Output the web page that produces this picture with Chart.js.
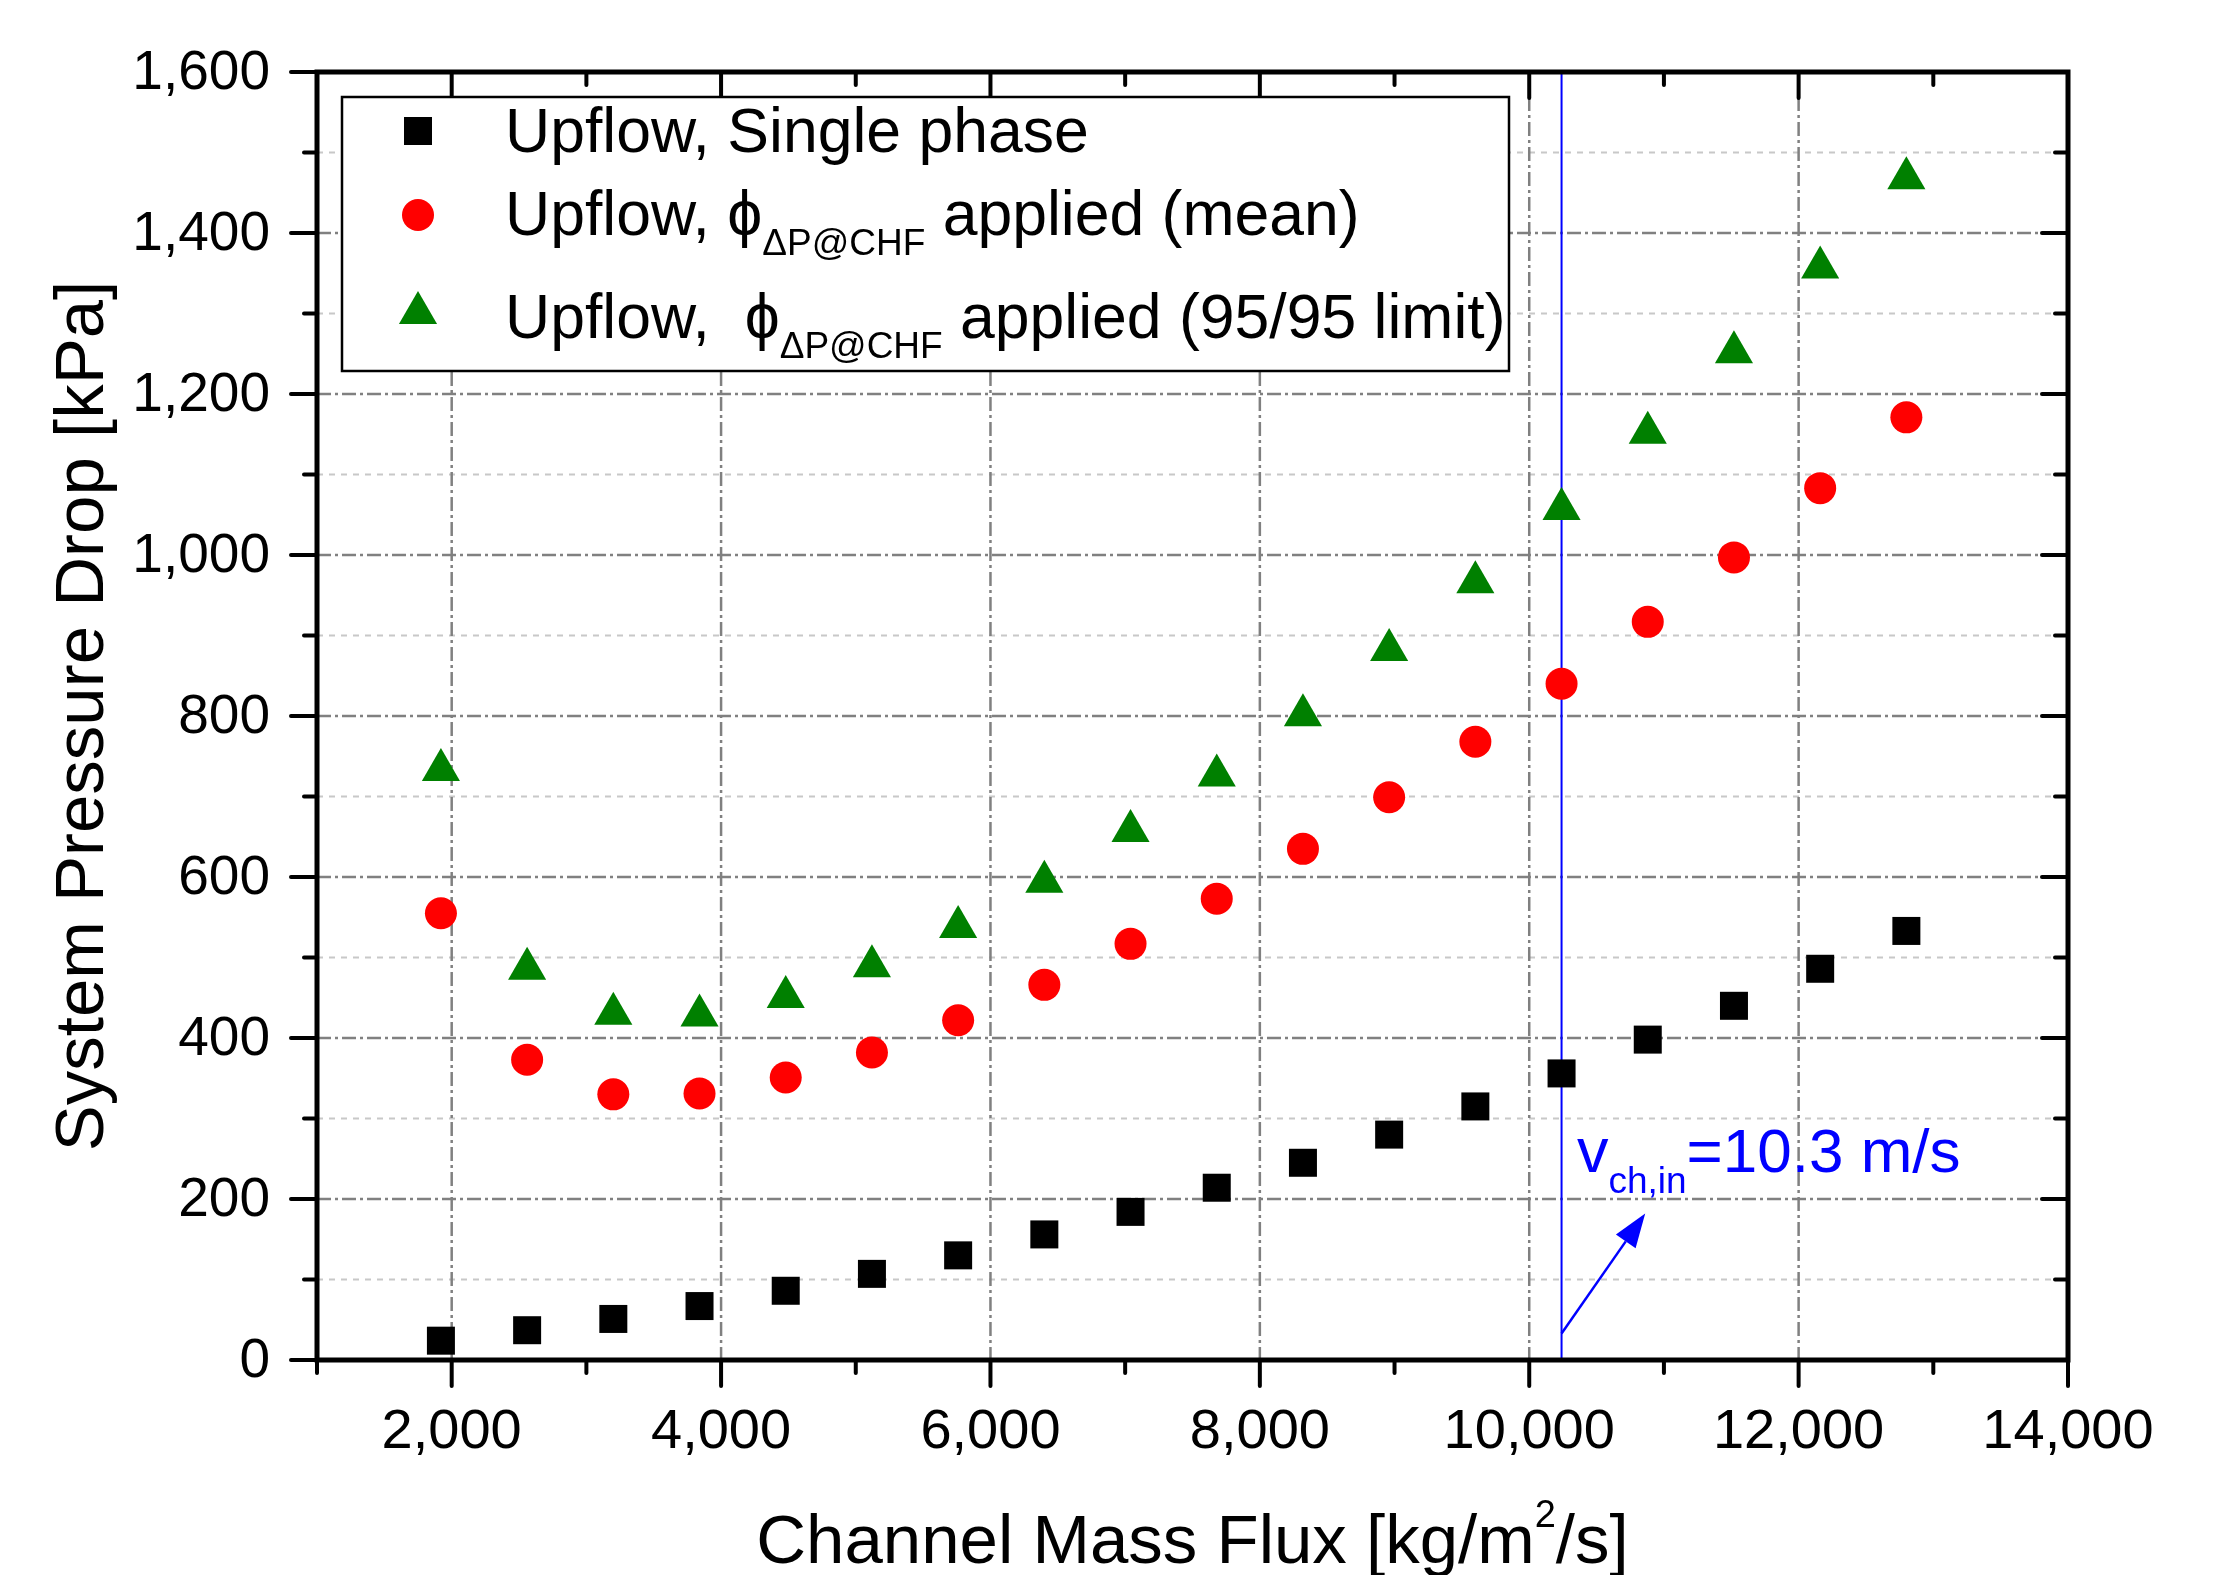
<!DOCTYPE html>
<html>
<head>
<meta charset="utf-8">
<script src="https://cdn.jsdelivr.net/npm/chart.js@4.4.1/dist/chart.umd.min.js"></script>
<style>
  html, body { margin: 0; padding: 0; background: #fff; }
  #wrap { width: 2214px; height: 1575px; }
</style>
</head>
<body>
<div id="wrap"><canvas id="chart" width="2214" height="1575"></canvas></div>
<script>
// --- data ---
const massFlux = [1920, 2560, 3200, 3840, 4480, 5120, 5760, 6400, 7040, 7680, 8320, 8960, 9600, 10240, 10880, 11520, 12160, 12800];
const singlePhase = [24, 37, 51, 67, 86, 107, 130, 156, 184, 214, 245, 280, 315, 356, 398, 440, 486, 533];
const meanApplied = [555, 373, 330, 331, 351, 382, 422, 466, 517, 573, 635, 699, 768, 840, 917, 997, 1083, 1171];
const limitApplied = [733, 486, 430, 428, 451, 489, 538, 594, 657, 726, 801, 882, 966, 1057, 1152, 1252, 1357, 1468];

const xMajorTicks = [2000, 4000, 6000, 8000, 10000, 12000, 14000];
const xMinorTicks = [1000, 3000, 5000, 7000, 9000, 11000, 13000];
const yMajorTicks = [0, 200, 400, 600, 800, 1000, 1200, 1400, 1600];
const yMinorTicks = [100, 300, 500, 700, 900, 1100, 1300, 1500];

const velocityLineX = 10240;   // v_ch,in = 10.3 m/s
const arrowFrom = [10240, 33];
const arrowTo = [10861, 182];
const noteAt = [10354, 234];

const FONT = '"Liberation Sans", Arial, sans-serif';

function pts(ys) {
  return massFlux.map((x, i) => ({ x: x, y: ys[i] }));
}

function seg(ctx, x1, y1, x2, y2, dash, color, w) {
  ctx.beginPath();
  ctx.setLineDash(dash);
  ctx.strokeStyle = color;
  ctx.lineWidth = w;
  ctx.moveTo(x1, y1);
  ctx.lineTo(x2, y2);
  ctx.stroke();
  ctx.setLineDash([]);
}

// draws a run of text pieces [text, size, dy] starting at x, returns end x
function runText(ctx, x, y, parts, color) {
  ctx.fillStyle = color;
  ctx.textAlign = 'left';
  ctx.textBaseline = 'alphabetic';
  parts.forEach(p => {
    ctx.font = p[1] + 'px ' + FONT;
    ctx.fillText(p[0], x, y + (p[2] || 0));
    x += ctx.measureText(p[0]).width;
  });
  return x;
}

function runWidth(ctx, parts) {
  let w = 0;
  parts.forEach(p => {
    ctx.font = p[1] + 'px ' + FONT;
    w += ctx.measureText(p[0]).width;
  });
  return w;
}

const originStyle = {
  id: 'originStyle',
  beforeDatasetsDraw(chart) {
    const { ctx, chartArea: a, scales: { x, y } } = chart;
    ctx.save();
    yMinorTicks.forEach(v => {
      const py = y.getPixelForValue(v);
      seg(ctx, a.left, py, a.right, py, [6, 6], '#c8c8c8', 2);
    });
    yMajorTicks.filter(v => v > 0 && v < 1600).forEach(v => {
      const py = y.getPixelForValue(v);
      seg(ctx, a.left, py, a.right, py, [14, 4, 3, 4], '#808080', 2.5);
    });
    xMajorTicks.filter(v => v < 14000).forEach(v => {
      const px = x.getPixelForValue(v);
      seg(ctx, px, a.top, px, a.bottom, [14, 4, 3, 4], '#808080', 2.5);
    });
    // velocity marker line
    const lx = x.getPixelForValue(velocityLineX);
    seg(ctx, lx, a.top, lx, a.bottom, [], '#0000ff', 2);
    ctx.restore();
  },
  afterDatasetsDraw(chart) {
    const { ctx, chartArea: a, scales: { x, y } } = chart;
    ctx.save();

    // frame
    ctx.strokeStyle = '#000';
    ctx.lineWidth = 5;
    ctx.strokeRect(a.left, a.top, a.right - a.left, a.bottom - a.top);

    // ticks
    const major = 26, minor = 13;
    ctx.lineCap = 'round';
    xMajorTicks.concat(xMinorTicks).forEach(v => {
      const px = x.getPixelForValue(v);
      const len = xMajorTicks.includes(v) ? major : minor;
      seg(ctx, px, a.bottom, px, a.bottom + len, [], '#000', 4);
      seg(ctx, px, a.top, px, a.top + len, [], '#000', 4);
    });
    yMajorTicks.concat(yMinorTicks).forEach(v => {
      const py = y.getPixelForValue(v);
      const len = yMajorTicks.includes(v) ? major : minor;
      seg(ctx, a.left, py, a.left - len, py, [], '#000', 4);
      seg(ctx, a.right, py, a.right - len, py, [], '#000', 4);
    });
    ctx.lineCap = 'butt';

    // tick labels
    ctx.fillStyle = '#000';
    ctx.font = '55px ' + FONT;
    ctx.textAlign = 'right';
    ctx.textBaseline = 'middle';
    yMajorTicks.forEach(v => {
      ctx.fillText(v.toLocaleString('en-US'), a.left - 47, y.getPixelForValue(v) + 2);
    });
    ctx.font = '56px ' + FONT;
    ctx.textAlign = 'center';
    ctx.textBaseline = 'alphabetic';
    xMajorTicks.forEach(v => {
      ctx.fillText(v.toLocaleString('en-US'), x.getPixelForValue(v), a.bottom + 88);
    });

    // axis titles
    ctx.save();
    ctx.translate(a.left - 214, (a.top + a.bottom) / 2);
    ctx.rotate(-Math.PI / 2);
    ctx.font = '69px ' + FONT;
    ctx.textAlign = 'center';
    ctx.fillText('System Pressure Drop [kPa]', 0, 0);
    ctx.restore();

    const xTitle = [['Channel Mass Flux [kg/m', 69], ['2', 38, -36], ['/s]', 69]];
    const tw = runWidth(ctx, xTitle);
    runText(ctx, (a.left + a.right) / 2 - tw / 2, a.bottom + 203, xTitle, '#000');

    // legend
    ctx.fillStyle = '#fff';
    ctx.fillRect(342, 97, 1167, 274);
    ctx.strokeStyle = '#000';
    ctx.lineWidth = 2.5;
    ctx.strokeRect(342, 97, 1167, 274);
    const rows = [
      [131, 152, [['Upflow, Single phase', 62.5]]],
      [215, 235, [['Upflow, ', 62.5], ['\u03D5', 62.5], ['\u0394P@CHF', 37, 20], [' applied (mean)', 62.5]]],
      [313, 338, [['Upflow,  ', 62.5], ['\u03D5', 62.5], ['\u0394P@CHF', 37, 20], [' applied (95/95 limit)', 62.5]]]
    ];
    rows.forEach((r, i) => {
      const ds = chart.data.datasets[i];
      ctx.fillStyle = ds.backgroundColor;
      Chart.helpers.drawPoint(ctx, {
        pointStyle: ds.pointStyle, radius: ds.pointRadius, rotation: 0, borderWidth: 0
      }, 418, r[0]);
      runText(ctx, 505, r[1], r[2], '#000');
    });

    // velocity annotation
    const fx = x.getPixelForValue(arrowFrom[0]), fy = y.getPixelForValue(arrowFrom[1]);
    const tx = x.getPixelForValue(arrowTo[0]), ty = y.getPixelForValue(arrowTo[1]);
    const ang = Math.atan2(ty - fy, tx - fx);
    const headLen = 34, headW = 12;
    const bx = tx - Math.cos(ang) * headLen, by = ty - Math.sin(ang) * headLen;
    seg(ctx, fx, fy, bx, by, [], '#0000ff', 2.5);
    ctx.fillStyle = '#0000ff';
    ctx.beginPath();
    ctx.moveTo(tx, ty);
    ctx.lineTo(bx + Math.sin(ang) * headW, by - Math.cos(ang) * headW);
    ctx.lineTo(bx - Math.sin(ang) * headW, by + Math.cos(ang) * headW);
    ctx.closePath();
    ctx.fill();

    runText(ctx, x.getPixelForValue(noteAt[0]), y.getPixelForValue(noteAt[1]),
      [['v', 63], ['ch,in', 37, 21], ['=10.3 m/s', 62]], '#0000ff');

    ctx.restore();
  }
};

new Chart(document.getElementById('chart'), {
  type: 'scatter',
  data: {
    datasets: [
      {
        label: 'Upflow, Single phase',
        data: pts(singlePhase),
        backgroundColor: '#000000',
        pointStyle: 'rect',
        pointRadius: 19.8,
        pointBorderWidth: 0
      },
      {
        label: 'Upflow, \u03D5\u0394P@CHF applied (mean)',
        data: pts(meanApplied),
        backgroundColor: '#ff0000',
        pointStyle: 'circle',
        pointRadius: 16,
        pointBorderWidth: 0
      },
      {
        label: 'Upflow, \u03D5\u0394P@CHF applied (95/95 limit)',
        data: pts(limitApplied),
        backgroundColor: '#008000',
        pointStyle: 'triangle',
        pointRadius: 22,
        pointBorderWidth: 0
      }
    ]
  },
  options: {
    responsive: false,
    devicePixelRatio: 1,
    animation: false,
    layout: { padding: { left: 317, right: 146, top: 72, bottom: 215 } },
    plugins: { legend: { display: false }, tooltip: { enabled: false } },
    elements: { point: { hoverRadius: 0 } },
    scales: {
      x: { type: 'linear', min: 1000, max: 14000, display: false },
      y: { type: 'linear', min: 0, max: 1600, display: false }
    }
  },
  plugins: [originStyle]
});
</script>
</body>
</html>
